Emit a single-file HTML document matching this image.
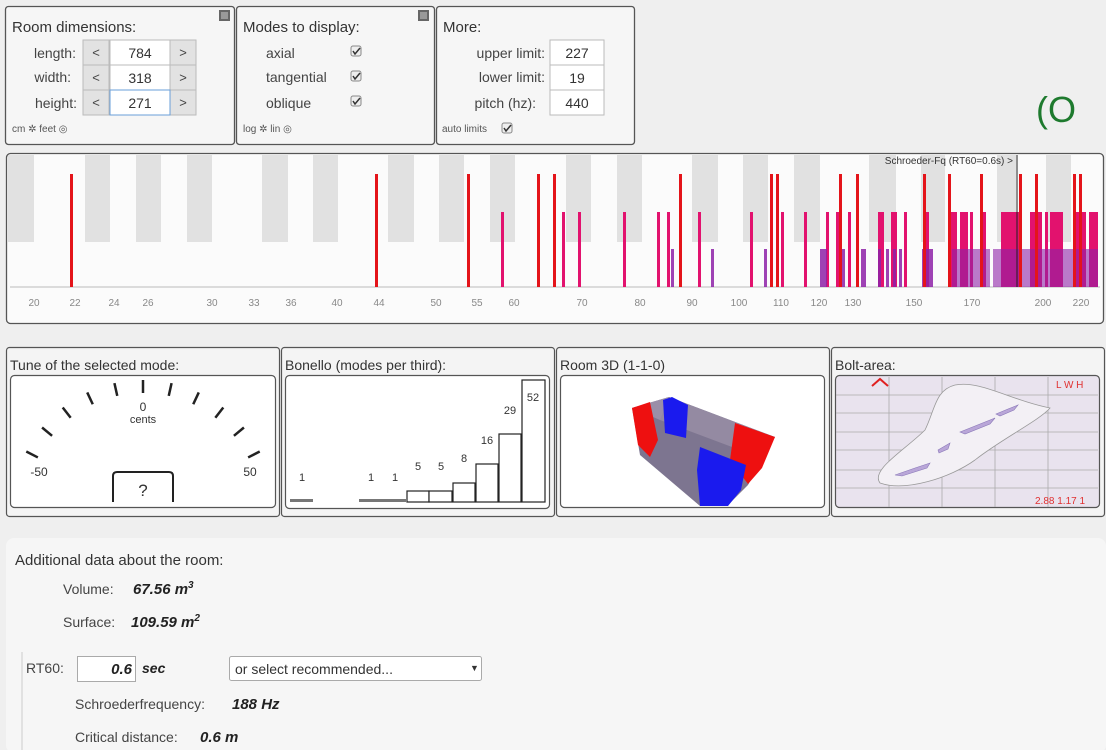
<!DOCTYPE html>
<html><head><meta charset="utf-8"><style>
html,body{margin:0;padding:0;background:#efefef;}
svg{display:block;font-family:"Liberation Sans",sans-serif;}
</style></head><body>
<svg width="1106" height="750" viewBox="0 0 1106 750" xmlns="http://www.w3.org/2000/svg">
<rect width="1106" height="750" fill="#efefef"/>
<!-- top panels -->
<g stroke="#555" stroke-width="1.3" fill="#f6f6f6">
<rect x="5.5" y="6.5" width="229" height="138" rx="3"/>
<rect x="236.5" y="6.5" width="198" height="138" rx="3"/>
<rect x="436.5" y="6.5" width="198" height="138" rx="3"/>
</g>
<rect x="219" y="10" width="11" height="11" fill="#666"/><rect x="221" y="12" width="7" height="7" fill="#999"/>
<rect x="418" y="10" width="11" height="11" fill="#666"/><rect x="420" y="12" width="7" height="7" fill="#999"/>
<g font-size="15" fill="#333">
<text x="12" y="32">Room dimensions:</text>
<text x="243" y="32">Modes to display:</text>
<text x="443" y="32">More:</text>
</g>
<g font-size="14" fill="#444" text-anchor="end">
<text x="76" y="58">length:</text><text x="71" y="82">width:</text><text x="77" y="108">height:</text>
<text x="545" y="58">upper limit:</text><text x="545" y="82">lower limit:</text><text x="536" y="108">pitch (hz):</text>
</g>
<g font-size="14" fill="#444">
<text x="266" y="58">axial</text><text x="266" y="82">tangential</text><text x="266" y="108">oblique</text>
</g>
<g stroke="#bbb" fill="#e2e2e2">
<rect x="83" y="40" width="26" height="25"/><rect x="170" y="40" width="26" height="25"/>
<rect x="83" y="65" width="26" height="25"/><rect x="170" y="65" width="26" height="25"/>
<rect x="83" y="90" width="26" height="25"/><rect x="170" y="90" width="26" height="25"/>
</g>
<g stroke="#bbb" fill="#fff">
<rect x="110" y="40" width="60" height="25"/><rect x="110" y="65" width="60" height="25"/>
<rect x="550" y="40" width="54" height="25"/><rect x="550" y="65" width="54" height="25"/><rect x="550" y="90" width="54" height="25"/>
</g>
<rect x="110" y="90" width="60" height="25" fill="#fff" stroke="#6a9fd8"/>
<g font-size="13" fill="#444" text-anchor="middle">
<text x="96" y="57">&lt;</text><text x="183" y="57">&gt;</text>
<text x="96" y="82">&lt;</text><text x="183" y="82">&gt;</text>
<text x="96" y="107">&lt;</text><text x="183" y="107">&gt;</text>
</g>
<g font-size="14" fill="#333" text-anchor="middle">
<text x="140" y="58">784</text><text x="140" y="83">318</text><text x="140" y="108">271</text>
<text x="577" y="58">227</text><text x="577" y="83">19</text><text x="577" y="108">440</text>
</g>
<g fill="#eee" stroke="#888">
<rect x="351" y="46" width="10" height="10" rx="2"/><rect x="351" y="71" width="10" height="10" rx="2"/><rect x="351" y="96" width="10" height="10" rx="2"/>
<rect x="502" y="123" width="10" height="10" rx="2"/>
</g>
<g fill="none" stroke="#333" stroke-width="1.5">
<path d="M353 51l2 3 5-6"/><path d="M353 76l2 3 5-6"/><path d="M353 101l2 3 5-6"/><path d="M504 128l2 3 5-6"/>
</g>
<g font-size="10" fill="#555">
<text x="12" y="132">cm ✲ feet ◎</text><text x="243" y="132">log ✲ lin ◎</text><text x="442" y="132">auto limits</text>
</g>
<text x="1036" y="122" font-size="36" fill="#1e7a2e">(O</text>

<!-- mode chart -->
<rect x="6.5" y="153.5" width="1097" height="170" rx="4" fill="#fbfbfb" stroke="#555" stroke-width="1.3"/>
<g fill="#e1e1e1">
<rect x="8" y="155" width="26" height="87"/><rect x="85" y="155" width="25" height="87"/><rect x="136" y="155" width="25" height="87"/>
<rect x="187" y="155" width="25" height="87"/><rect x="262" y="155" width="26" height="87"/><rect x="313" y="155" width="25" height="87"/>
<rect x="388" y="155" width="26" height="87"/><rect x="439" y="155" width="25" height="87"/><rect x="490" y="155" width="25" height="87"/>
<rect x="566" y="155" width="25" height="87"/><rect x="617" y="155" width="25" height="87"/><rect x="692" y="155" width="26" height="87"/>
<rect x="743" y="155" width="25" height="87"/><rect x="794" y="155" width="26" height="87"/><rect x="869" y="155" width="27" height="87"/>
<rect x="921" y="155" width="24" height="87"/><rect x="997" y="155" width="19" height="87"/><rect x="1046" y="155" width="25" height="87"/>
</g>
<line x1="10" y1="287" x2="1100" y2="287" stroke="#bbb"/>
<g fill="#e2126e">
<rect x="501" y="212" width="3" height="75"/><rect x="562" y="212" width="3" height="75"/><rect x="578" y="212" width="3" height="75"/>
<rect x="623" y="212" width="3" height="75"/><rect x="657" y="212" width="3" height="75"/><rect x="667" y="212" width="3" height="75"/>
<rect x="698" y="212" width="3" height="75"/><rect x="750" y="212" width="3" height="75"/><rect x="781" y="212" width="3" height="75"/>
<rect x="804" y="212" width="3" height="75"/><rect x="826" y="212" width="3" height="75"/><rect x="836" y="212" width="3" height="75"/>
<rect x="848" y="212" width="3" height="75"/><rect x="878" y="212" width="6" height="75"/><rect x="891" y="212" width="6" height="75"/>
<rect x="904" y="212" width="3" height="75"/><rect x="923" y="212" width="6" height="75"/><rect x="951" y="212" width="6" height="75"/>
<rect x="960" y="212" width="8" height="75"/><rect x="970" y="212" width="3" height="75"/><rect x="982" y="212" width="4" height="75"/>
<rect x="1001" y="212" width="18" height="75"/><rect x="1030" y="212" width="12" height="75"/><rect x="1045" y="212" width="3" height="75"/>
<rect x="1050" y="212" width="13" height="75"/><rect x="1075" y="212" width="11" height="75"/><rect x="1089" y="212" width="9" height="75"/>
</g>
<g fill="#8e22a8" opacity="0.85">
<rect x="671" y="249" width="3" height="38"/><rect x="711" y="249" width="3" height="38"/><rect x="764" y="249" width="3" height="38"/>
<rect x="820" y="249" width="7" height="38"/><rect x="841" y="249" width="4" height="38"/><rect x="861" y="249" width="5" height="38"/>
<rect x="878" y="249" width="3" height="38"/><rect x="886" y="249" width="3" height="38"/><rect x="893" y="249" width="3" height="38"/><rect x="899" y="249" width="3" height="38"/>
<rect x="922" y="249" width="11" height="38"/><rect x="952" y="249" width="38" height="38" opacity="0.7"/><rect x="993" y="249" width="105" height="38" opacity="0.7"/>
</g>
<g fill="#e4141a">
<rect x="70" y="174" width="3" height="113"/><rect x="375" y="174" width="3" height="113"/><rect x="467" y="174" width="3" height="113"/>
<rect x="537" y="174" width="3" height="113"/><rect x="553" y="174" width="3" height="113"/><rect x="679" y="174" width="3" height="113"/>
<rect x="770" y="174" width="3" height="113"/><rect x="776" y="174" width="3" height="113"/><rect x="839" y="174" width="3" height="113"/>
<rect x="856" y="174" width="3" height="113"/><rect x="923" y="174" width="3" height="113"/><rect x="948" y="174" width="3" height="113"/>
<rect x="980" y="174" width="3" height="113"/><rect x="1019" y="174" width="3" height="113"/><rect x="1035" y="174" width="3" height="113"/>
<rect x="1073" y="174" width="3" height="113"/><rect x="1079" y="174" width="3" height="113"/>
</g>
<line x1="1017" y1="155" x2="1017" y2="287" stroke="#222" stroke-width="1"/>
<text x="1013" y="164" font-size="10" fill="#333" text-anchor="end">Schroeder-Fq (RT60=0.6s) &gt;</text>
<g font-size="10" fill="#888" text-anchor="middle">
<text x="34" y="306">20</text><text x="75" y="306">22</text><text x="114" y="306">24</text><text x="148" y="306">26</text>
<text x="212" y="306">30</text><text x="254" y="306">33</text><text x="291" y="306">36</text><text x="337" y="306">40</text>
<text x="379" y="306">44</text><text x="436" y="306">50</text><text x="477" y="306">55</text><text x="514" y="306">60</text>
<text x="582" y="306">70</text><text x="640" y="306">80</text><text x="692" y="306">90</text><text x="739" y="306">100</text>
<text x="781" y="306">110</text><text x="819" y="306">120</text><text x="853" y="306">130</text><text x="914" y="306">150</text>
<text x="972" y="306">170</text><text x="1043" y="306">200</text><text x="1081" y="306">220</text>
</g>

<!-- bottom panels -->
<g stroke="#555" stroke-width="1.2" fill="#f4f4f4">
<rect x="6.5" y="347.5" width="273" height="169" rx="3"/><rect x="281.5" y="347.5" width="273" height="169" rx="3"/>
<rect x="556.5" y="347.5" width="273" height="169" rx="3"/><rect x="831.5" y="347.5" width="273" height="169" rx="3"/>
</g>
<g font-size="14" fill="#333">
<text x="10" y="370">Tune of the selected mode:</text><text x="285" y="370">Bonello (modes per third):</text>
<text x="560" y="370">Room 3D (1-1-0)</text><text x="835" y="370">Bolt-area:</text>
</g>
<g stroke="#555" stroke-width="1.2" fill="#fff">
<rect x="10.5" y="375.5" width="265" height="132" rx="4"/><rect x="285.5" y="375.5" width="264" height="133" rx="4"/>
<rect x="560.5" y="375.5" width="264" height="132" rx="4"/>
</g>
<rect x="835.5" y="375.5" width="264" height="132" rx="4" fill="#e9e3ee" stroke="#555" stroke-width="1.2"/>
<!-- gauge -->
<g stroke="#222" stroke-width="2.5" transform="translate(143,511)">
<line x1="0" y1="-118" x2="0" y2="-131" transform="rotate(-63)"/>
<line x1="0" y1="-118" x2="0" y2="-131" transform="rotate(-50.4)"/>
<line x1="0" y1="-118" x2="0" y2="-131" transform="rotate(-37.8)"/>
<line x1="0" y1="-118" x2="0" y2="-131" transform="rotate(-25.2)"/>
<line x1="0" y1="-118" x2="0" y2="-131" transform="rotate(-12.6)"/>
<line x1="0" y1="-118" x2="0" y2="-131"/>
<line x1="0" y1="-118" x2="0" y2="-131" transform="rotate(12.6)"/>
<line x1="0" y1="-118" x2="0" y2="-131" transform="rotate(25.2)"/>
<line x1="0" y1="-118" x2="0" y2="-131" transform="rotate(37.8)"/>
<line x1="0" y1="-118" x2="0" y2="-131" transform="rotate(50.4)"/>
<line x1="0" y1="-118" x2="0" y2="-131" transform="rotate(63)"/>
</g>
<g font-size="12" fill="#333" text-anchor="middle">
<text x="143" y="411">0</text><text x="143" y="423" font-size="11">cents</text>
<text x="39" y="476">-50</text><text x="250" y="476">50</text>
</g>
<path d="M113 502V476q0-4 4-4h52q4 0 4 4v26" fill="#fff" stroke="#222" stroke-width="2"/>
<text x="143" y="496" font-size="17" fill="#333" text-anchor="middle">?</text>
<!-- bonello -->
<g fill="#fff" stroke="#222" stroke-width="1.2">
<rect x="407" y="491" width="22" height="11"/><rect x="429" y="491" width="23" height="11"/>
<rect x="453" y="483" width="22" height="19"/><rect x="476" y="464" width="22" height="38"/>
<rect x="499" y="434" width="22" height="68"/><rect x="522" y="380" width="23" height="122"/>
</g>
<rect x="290" y="499" width="23" height="3" fill="#777"/><rect x="359" y="499" width="47" height="3" fill="#777"/>
<g font-size="11" fill="#333" text-anchor="middle">
<text x="302" y="481">1</text><text x="371" y="481">1</text><text x="395" y="481">1</text>
<text x="418" y="470">5</text><text x="441" y="470">5</text><text x="464" y="462">8</text>
<text x="487" y="444">16</text><text x="510" y="414">29</text><text x="533" y="401">52</text>
</g>
<!-- room 3D -->
<polygon points="632,408 669,397 775,437 748,485 727,506 700,506 640,455" fill="#7d7590"/>
<polygon points="632,408 669,397 700,410 660,420" fill="#9a8ea8"/>
<polygon points="669,397 775,437 740,450 660,420" fill="#948aa2"/>
<polygon points="632,408 650,402 658,440 650,457 638,445" fill="#ee1010"/>
<polygon points="663,400 672,397 688,405 686,438 665,433" fill="#1a1aee"/>
<polygon points="735,423 775,437 762,468 748,484 730,460" fill="#ee1010"/>
<polygon points="700,447 746,465 741,490 728,506 700,506 697,470" fill="#1a1aee"/>
<!-- bolt area -->
<g stroke="#aaa" stroke-width="0.8">
<line x1="889" y1="377" x2="889" y2="507"/><line x1="942" y1="377" x2="942" y2="507"/><line x1="995" y1="377" x2="995" y2="507"/><line x1="1048" y1="377" x2="1048" y2="507"/>
<line x1="836" y1="395" x2="1098" y2="395"/><line x1="836" y1="413" x2="1098" y2="413"/><line x1="836" y1="432" x2="1098" y2="432"/>
<line x1="836" y1="450" x2="1098" y2="450"/><line x1="836" y1="470" x2="1098" y2="470"/><line x1="836" y1="488" x2="1098" y2="488"/>
</g>
<path d="M880 483C870 470 905 450 925 430C935 410 935 390 955 385C980 380 1010 400 1050 408C1040 420 1000 440 975 460C950 478 905 492 880 483Z" fill="#f3f0f5" stroke="#999" stroke-width="0.8"/>
<g fill="#b9a6d8" stroke="#8a78b8" stroke-width="0.6">
<path d="M895 475l20-7 15-5-3 5-25 8z"/><path d="M938 450l12-7-2 6-9 4z"/><path d="M960 432l20-8 15-6-5 6-25 10z"/><path d="M996 414l12-5 10-4-4 5-14 6z"/>
</g>
<path d="M872 386l8-7 8 7" fill="none" stroke="#e02020" stroke-width="2"/>
<text x="1056" y="388" font-size="10" fill="#e03030">L W H</text>
<text x="1035" y="504" font-size="10" fill="#e03030">2.88 1.17 1</text>

<!-- additional data -->
<rect x="6" y="538" width="1100" height="215" rx="8" fill="#f6f6f6"/>
<text x="15" y="565" font-size="15" fill="#333">Additional data about the room:</text>
<g font-size="14" fill="#444">
<text x="63" y="594">Volume:</text><text x="63" y="627">Surface:</text>
<text x="26" y="673">RT60:</text>
<text x="75" y="709">Schroederfrequency:</text><text x="75" y="742">Critical distance:</text>
</g>
<g font-size="15" fill="#222" font-weight="bold" font-style="italic">
<text x="133" y="594">67.56 m<tspan font-size="10" dy="-6">3</tspan></text>
<text x="131" y="627">109.59 m<tspan font-size="10" dy="-6">2</tspan></text>
<text x="142" y="673" font-size="14">sec</text>
<text x="232" y="709">188 Hz</text><text x="200" y="742">0.6 m</text>
</g>
<line x1="22" y1="652" x2="22" y2="750" stroke="#ccc"/>
<rect x="77.5" y="656.5" width="58" height="25" fill="#fff" stroke="#aaa"/>
<text x="132" y="674" font-size="15" fill="#222" font-weight="bold" font-style="italic" text-anchor="end">0.6</text>
<rect x="229.5" y="656.5" width="252" height="24" rx="2" fill="#fff" stroke="#aaa"/>
<text x="235" y="674" font-size="14" fill="#333">or select recommended...</text>
<text x="470" y="671" font-size="9" fill="#333">▼</text>
</svg>
</body></html>
